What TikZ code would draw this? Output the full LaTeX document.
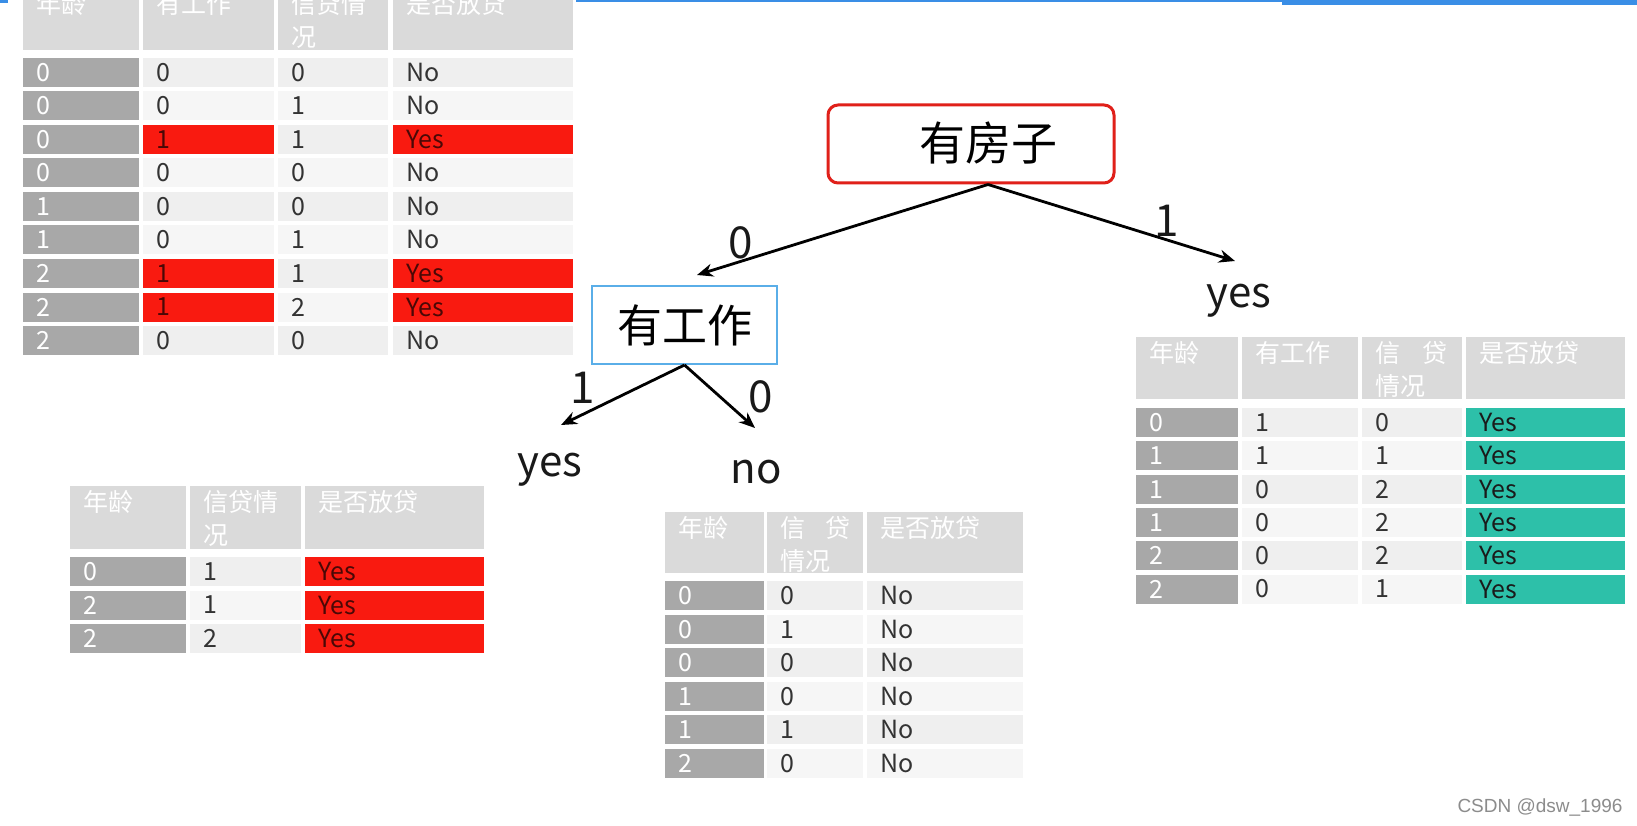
\documentclass[tikz,border=0pt]{standalone}
\usepackage{fontspec}
\setmainfont{Noto Sans CJK SC}
\newfontfamily\wmfont{Liberation Sans}
\usetikzlibrary{arrows.meta}
\definecolor{hdr}{HTML}{DADADA}
\definecolor{cone}{HTML}{A8A8A8}
\definecolor{cA}{HTML}{EFEFEF}
\definecolor{cB}{HTML}{F6F6F6}
\definecolor{myred}{HTML}{F91A10}
\definecolor{myteal}{HTML}{2DC0A9}
\definecolor{topblue}{HTML}{3A8EE6}
\definecolor{jobblue}{HTML}{5AAEE8}
\definecolor{housered}{HTML}{E0201A}
\definecolor{tx}{HTML}{333333}
\definecolor{redtx}{HTML}{4A0806}
\definecolor{tealtx}{HTML}{1A1A1A}
\tikzset{
  celltxt/.style={anchor=west,inner sep=0pt,font=\fontsize{25}{28}\selectfont},
  hdrtxt/.style={anchor=north west,inner sep=0pt,text=white,align=left,font=\fontsize{25}{33}\selectfont},
  housebox/.style={draw=housered,line width=3pt,rounded corners=10pt,minimum width=286pt,minimum height=78pt,fill=white},
  jobbox/.style={draw=jobblue,line width=2pt,minimum width=185pt,minimum height=78pt,fill=white,font=\fontsize{45}{48}\selectfont},
  treetxt/.style={font=\fontsize{46}{48}\selectfont,inner sep=0pt},
  edgelbl/.style={font=\fontsize{44}{48}\selectfont,inner sep=0pt,text=black!90},
  leaf/.style={font=\fontsize{42}{46}\selectfont,inner sep=0pt,text=black!90},
  arr/.style={line width=2.8pt,-{Stealth[length=16pt,width=13pt]}}
}
\newcommand\tcell[7]{%
  \fill[#5] (#2,#4) rectangle (#3,#4+29);
  \node[celltxt,text=#6] (#1) at (#2+13,#4+14.5) {#7};}
\newcommand\hcell[6]{%
  \fill[hdr] (#2,#4) rectangle (#3,#5);
  \node[hdrtxt] (#1) at (#2+13,#4+4) {#6};}
\begin{document}
\begin{tikzpicture}[x=1pt,y=-1pt]
\useasboundingbox (0,0) rectangle (1637,826);
\fill[white] (0,0) rectangle (1637,826);
% top line
\fill[topblue] (0,0) rectangle (8,3);
\fill[topblue] (576,0) rectangle (1637,2.5);
\fill[topblue] (1282,0) rectangle (1637,5);

% ---------- top-left table ----------
\hcell{tlh1}{23}{139}{-12}{50}{年龄}
\hcell{tlh2}{143}{274}{-12}{50}{有工作}
\hcell{tlh3}{278}{388}{-12}{50}{信贷情\\况}
\hcell{tlh4}{393}{573}{-12}{50}{是否放贷}
\foreach \a/\b/\c/\d/\hl [count=\i from 0] in {0/0/0/No/0,0/0/1/No/0,0/1/1/Yes/1,0/0/0/No/0,1/0/0/No/0,1/0/1/No/0,2/1/1/Yes/1,2/1/2/Yes/1,2/0/0/No/0}{
  \pgfmathsetmacro\yy{58+33.5*\i}
  \ifodd\i\relax\def\rc{cB}\else\def\rc{cA}\fi
  \ifnum\hl=1\relax\def\hc{myred}\def\htc{redtx}\else\let\hc\rc\def\htc{tx}\fi
  \tcell{tl-\i-1}{23}{139}{\yy}{cone}{white}{\a}
  \tcell{tl-\i-2}{143}{274}{\yy}{\hc}{\htc}{\b}
  \tcell{tl-\i-3}{278}{388}{\yy}{\rc}{tx}{\c}
  \tcell{tl-\i-4}{393}{573}{\yy}{\hc}{\htc}{\d}
}

% ---------- bottom-left table ----------
\hcell{blh1}{70}{186}{486}{549}{年龄}
\hcell{blh2}{190}{301}{486}{549}{信贷情\\况}
\hcell{blh3}{305}{484}{486}{549}{是否放贷}
\foreach \a/\b/\d [count=\i from 0] in {0/1/Yes,2/1/Yes,2/2/Yes}{
  \pgfmathsetmacro\yy{557+33.5*\i}
  \ifodd\i\relax\def\rc{cB}\else\def\rc{cA}\fi
  \tcell{bl-\i-1}{70}{186}{\yy}{cone}{white}{\a}
  \tcell{bl-\i-2}{190}{301}{\yy}{\rc}{tx}{\b}
  \tcell{bl-\i-3}{305}{484}{\yy}{myred}{redtx}{\d}
}

% ---------- bottom-middle table ----------
\hcell{bmh1}{665}{764}{512}{573}{年龄}
\hcell{bmh2}{767}{863}{512}{573}{信\hspace{20pt}贷\\情况}
\hcell{bmh3}{867}{1023}{512}{573}{是否放贷}
\foreach \a/\b/\d [count=\i from 0] in {0/0/No,0/1/No,0/0/No,1/0/No,1/1/No,2/0/No}{
  \pgfmathsetmacro\yy{581+33.6*\i}
  \ifodd\i\relax\def\rc{cB}\else\def\rc{cA}\fi
  \tcell{bm-\i-1}{665}{764}{\yy}{cone}{white}{\a}
  \tcell{bm-\i-2}{767}{863}{\yy}{\rc}{tx}{\b}
  \tcell{bm-\i-3}{867}{1023}{\yy}{\rc}{tx}{\d}
}

% ---------- right table ----------
\hcell{rh1}{1136}{1238}{337}{399}{年龄}
\hcell{rh2}{1242}{1358}{337}{399}{有工作}
\hcell{rh3}{1362}{1462}{337}{399}{信\hspace{22pt}贷\\情况}
\hcell{rh4}{1466}{1625}{337}{399}{是否放贷}
\foreach \a/\b/\c/\d [count=\i from 0] in {0/1/0/Yes,1/1/1/Yes,1/0/2/Yes,1/0/2/Yes,2/0/2/Yes,2/0/1/Yes}{
  \pgfmathsetmacro\yy{408+33.3*\i}
  \ifodd\i\relax\def\rc{cB}\else\def\rc{cA}\fi
  \tcell{r-\i-1}{1136}{1238}{\yy}{cone}{white}{\a}
  \tcell{r-\i-2}{1242}{1358}{\yy}{\rc}{tx}{\b}
  \tcell{r-\i-3}{1362}{1462}{\yy}{\rc}{tx}{\c}
  \tcell{r-\i-4}{1466}{1625}{\yy}{myteal}{tealtx}{\d}
}

% ---------- tree ----------
\node[housebox] (house) at (971,144) {};
\node[treetxt] (housetxt) at (988,143) {有房子};
\node[jobbox] (job) at (684.5,325) {有工作};
\coordinate (hs) at (housetxt |- house.south);
\coordinate (e1) at (697,275);
\coordinate (e2) at (1235,261);
\coordinate (e3) at (561,425);
\coordinate (e4) at (755,428);
\draw[arr] (hs) -- (e1);
\draw[arr] (hs) -- (e2);
\draw[arr] (job.south) -- (e3);
\draw[arr] (job.south) -- (e4);
\node[edgelbl] (l0) at (741,243) {0};
\node[edgelbl] (l1) at (1167,221) {1};
\node[edgelbl] (l2) at (583,388) {1};
\node[edgelbl] (l3) at (761,397) {0};
\node[leaf] (yesR) at (1239,301) {yes};
\node[leaf] (yesL) at (550,470) {yes};
\node[leaf] (noL) at (756,472) {no};

% watermark
\node[font=\wmfont\fontsize{19}{22}\selectfont,text=black!45,inner sep=0pt] (wm) at (1540,807) {CSDN @dsw\_1996};
\end{tikzpicture}
\end{document}
